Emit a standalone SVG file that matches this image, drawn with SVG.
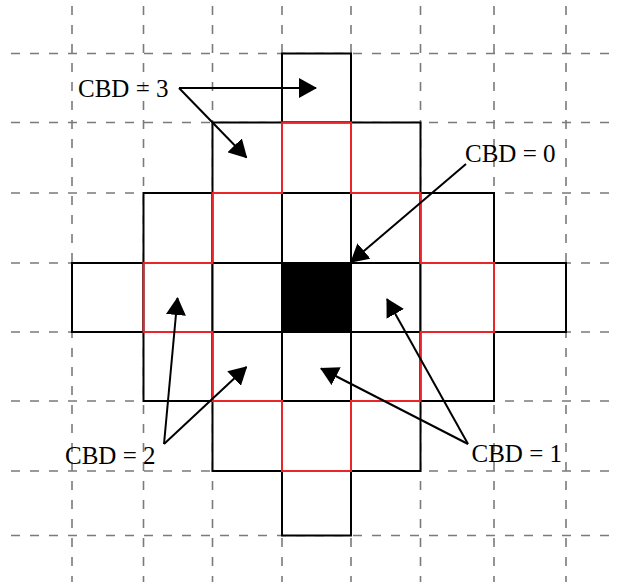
<svg xmlns="http://www.w3.org/2000/svg" width="618" height="585" viewBox="0 0 618 585">
<style>
.grid{stroke:#7a7a7a;stroke-width:1.6;stroke-dasharray:9 10;fill:none}
.cell{fill:#fff;stroke:#000;stroke-width:2}
.core{fill:#000;stroke:#000;stroke-width:2}
.red{fill:none;stroke:#e8262a;stroke-width:2;stroke-linejoin:miter}
.lbl{font-family:"Liberation Serif","Times New Roman",serif;font-size:25px;fill:#000}
.arr{stroke:#000;stroke-width:2;fill:none;marker-end:url(#head)}
</style>
<defs>
<marker id="head" viewBox="0 0 18 20" refX="17" refY="10" markerWidth="18" markerHeight="20" markerUnits="userSpaceOnUse" orient="auto">
<path d="M0,0 L18,10 L0,20 Z" fill="#000"/>
</marker>
</defs>
<rect width="618" height="585" fill="#fff"/>
<g id="grid" class="grid">
<path d="M72,6V582M143.5,6V582M212.5,6V582M282,6V582M351,6V582M420.5,6V582M494,6V582M566,6V582"/>
<path d="M11,53.5H618M11,122.5H618M11,193H618M11,263H618M11,332H618M11,401H618M11,471H618M11,535.5H618"/>
</g>
<g id="cells">
<g id="row0"><rect class="cell" x="282" y="53.5" width="69" height="69"/></g>
<g id="row1">
<rect class="cell" x="212.5" y="122.5" width="69.5" height="70.5"/>
<rect class="cell" x="282" y="122.5" width="69" height="70.5"/>
<rect class="cell" x="351" y="122.5" width="69.5" height="70.5"/>
</g>
<g id="row2">
<rect class="cell" x="143.5" y="193" width="69" height="70"/>
<rect class="cell" x="212.5" y="193" width="69.5" height="70"/>
<rect class="cell" x="282" y="193" width="69" height="70"/>
<rect class="cell" x="351" y="193" width="69.5" height="70"/>
<rect class="cell" x="420.5" y="193" width="73.5" height="70"/>
</g>
<g id="row3">
<rect class="cell" x="72" y="263" width="71.5" height="69"/>
<rect class="cell" x="143.5" y="263" width="69" height="69"/>
<rect class="cell" x="212.5" y="263" width="69.5" height="69"/>
<rect class="cell" x="351" y="263" width="69.5" height="69"/>
<rect class="cell" x="420.5" y="263" width="73.5" height="69"/>
<rect class="cell" x="494" y="263" width="72" height="69"/>
</g>
<g id="center"><rect class="core" x="282" y="263" width="69" height="69"/></g>
<g id="row4">
<rect class="cell" x="143.5" y="332" width="69" height="69"/>
<rect class="cell" x="212.5" y="332" width="69.5" height="69"/>
<rect class="cell" x="282" y="332" width="69" height="69"/>
<rect class="cell" x="351" y="332" width="69.5" height="69"/>
<rect class="cell" x="420.5" y="332" width="73.5" height="69"/>
</g>
<g id="row5">
<rect class="cell" x="212.5" y="401" width="69.5" height="70"/>
<rect class="cell" x="282" y="401" width="69" height="70"/>
<rect class="cell" x="351" y="401" width="69.5" height="70"/>
</g>
<g id="row6"><rect class="cell" x="282" y="471" width="69" height="64.5"/></g>
</g>
<g id="red-boundary">
<path class="red" d="M282,122.5 H351 V193 H420.5 V263 H494 V332 H420.5 V401 H351 V471 H282 V401 H212.5 V332 H143.5 V263 H212.5 V193 H282 Z"/>
</g>
<g id="connectors">
<line class="arr" x1="179" y1="88" x2="316" y2="88"/>
<line class="arr" x1="179" y1="88" x2="246.5" y2="157.5"/>
<line class="arr" x1="466" y1="164" x2="351" y2="262"/>
<line class="arr" x1="164" y1="444" x2="177.5" y2="298"/>
<line class="arr" x1="164" y1="444" x2="246.5" y2="367"/>
<line class="arr" x1="468" y1="444" x2="387" y2="299"/>
<line class="arr" x1="468" y1="444" x2="321" y2="368.5"/>
</g>
<g id="label-cbd3"><text class="lbl" x="78" y="97">CBD = 3</text></g>
<g id="label-cbd0"><text class="lbl" x="465" y="162">CBD = 0</text></g>
<g id="label-cbd2"><text class="lbl" x="65" y="464">CBD = 2</text></g>
<g id="label-cbd1"><text class="lbl" x="471.5" y="462">CBD = 1</text></g>
</svg>
